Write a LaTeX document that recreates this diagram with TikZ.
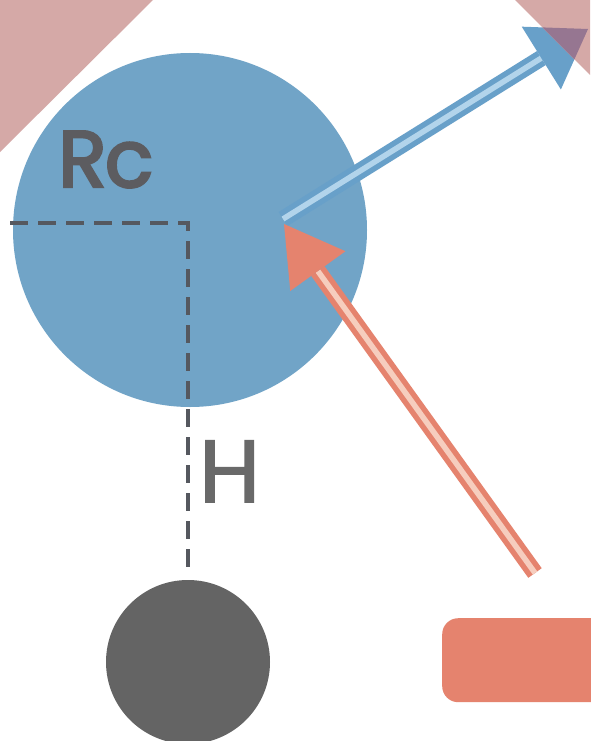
\documentclass[tikz,border=0pt]{standalone}
\usepackage{fontspec}
\setmainfont{Poppins}
\newfontfamily\rcfont{Poppins}[FakeBold=3]
\newfontfamily\hfont{Poppins}[FakeBold=1.8]
\usetikzlibrary{calc}
\definecolor{pinkc}{RGB}{213,169,167}
\definecolor{bluec}{RGB}{113,164,199}
\definecolor{bluearr}{RGB}{104,160,201}
\definecolor{bluein}{RGB}{178,212,235}
\definecolor{orangec}{RGB}{229,131,110}
\definecolor{orangein}{RGB}{246,205,190}
\definecolor{darkg}{RGB}{100,100,100}
\definecolor{dashc}{RGB}{85,88,95}
\definecolor{textc}{RGB}{92,92,96}
\definecolor{htextc}{RGB}{105,105,105}
\definecolor{overlapc}{RGB}{150,118,145}
\begin{document}
\begin{tikzpicture}[x=1pt,y=-1pt,
  ballstyle/.style={circle, inner sep=0pt, fill=#1},
  dashline/.style={dashc, line width=4pt, dash pattern=on 18pt off 10pt},
  label/.style={text=textc, inner sep=0pt, anchor=base west},
  shaft/.style={#1, line width=5.5pt, double distance=5.5pt}
]
\useasboundingbox (0,0) rectangle (590,741);
\fill[white] (0,0) rectangle (590,741);

% corner triangles
\fill[pinkc] (0,0) -- (153,0) -- (0,152) -- cycle;

% main ball
\node[ballstyle=bluec, minimum size=354pt] (ball) at (190,230) {};
% earth ball
\node[ballstyle=darkg, minimum size=164pt] (earth) at (188,662) {};

% dashed radius and height
\coordinate (rleft) at (10,223);
\coordinate (ctr) at (188,223);
\coordinate (hend) at (188,570);
\draw[dashline] (rleft) -- (ctr) -- (hend);

% labels
\node[label, font=\rcfont\fontsize{80}{80}\selectfont] (rc) at (58,187) {R\kern-2pt c};
\node[label, font=\hfont\fontsize{88}{88}\selectfont, text=htextc] (h) at (199,502) {H};

% blue arrow
\coordinate (btail) at (283,219);
\coordinate (btip) at (588,29);
\coordinate (bbase) at ($(btip)!55pt!(btail)$);
\draw[shaft=bluearr, double=bluein] (btail) -- (bbase);
\fill[bluearr] (btip) -- ($(bbase)!37pt!90:(btip)$) -- ($(bbase)!37pt!-90:(btip)$) -- cycle;

% top right triangle and overlap
\fill[pinkc] (515,0) -- (590,0) -- (590,75) -- cycle;
\begin{scope}
  \clip (515,0) -- (590,0) -- (590,75) -- cycle;
  \fill[overlapc] (btip) -- ($(bbase)!37pt!90:(btip)$) -- ($(bbase)!37pt!-90:(btip)$) -- cycle;
\end{scope}

% orange arrow
\coordinate (otail) at (535,573);
\coordinate (otip) at (284,224);
\coordinate (obase) at ($(otip)!58pt!(otail)$);
\draw[shaft=orangec, double=orangein] (otail) -- (obase);
\fill[orangec] (otip) -- ($(obase)!34pt!90:(otip)$) -- ($(obase)!34pt!-90:(otip)$) -- cycle;

% orange bar
\node[rectangle, rounded corners=16pt, fill=orangec, minimum width=190pt, minimum height=84pt, anchor=north west, inner sep=0pt] (bar) at (442,618) {};
\end{tikzpicture}
\end{document}
